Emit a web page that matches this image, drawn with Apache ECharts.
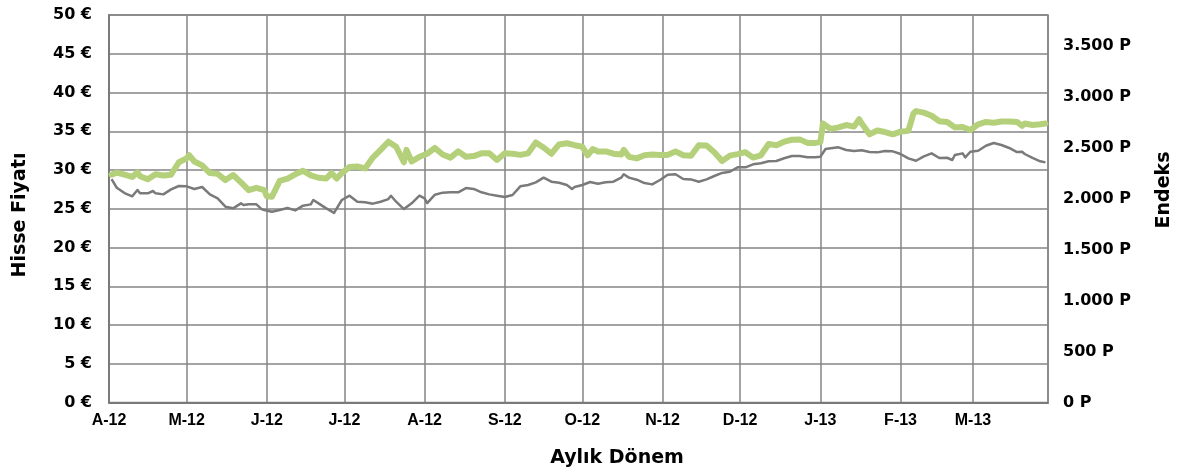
<!DOCTYPE html>
<html>
<head>
<meta charset="utf-8">
<script src="https://cdn.jsdelivr.net/npm/echarts@6/dist/echarts.min.js"></script>
<style>
  html, body { margin: 0; padding: 0; background: #ffffff; }
  #chart { width: 1177px; height: 472px; }
</style>
</head>
<body>
<div id="chart"></div>
<script>
// ---- data (days counted from 1 April 2012) ----
const monthLetters = ['J','F','M','A','M','J','J','A','S','O','N','D'];
const leftTicks = { min: 0, max: 50, step: 5 };
const rightTicks = { min: 0, max: 3800, step: 500 };

const stockDays = [1,3,6,9,11,12,15,18,21,24,27,30,31,33,36,39,42,45,48,51,54,57,60,61,63,66,69,72,75,78,81,84,86,88,90,93,96,99,102,105,108,111,114,115,117,120,123,126,129,132,135,138,141,144,147,150,153,156,159,162,165,168,171,174,177,180,183,185,187,189,192,195,198,199,201,204,207,210,213,216,219,222,225,228,231,234,237,240,243,246,249,252,255,258,261,264,267,270,273,275,276,279,282,285,288,290,291,294,297,300,303,306,309,311,312,315,318,321,324,327,330,333,336,339,342,345,348,351,353,354,357,360,362];
const stockPrice = [29.4,29.65,29.4,29.1,29.7,29.2,28.8,29.45,29.3,29.4,31.0,31.5,31.9,31.1,30.6,29.6,29.5,28.7,29.35,28.4,27.4,27.7,27.4,26.6,26.55,28.6,28.9,29.45,29.9,29.3,29.0,28.9,29.6,28.9,29.6,30.4,30.45,30.2,31.6,32.6,33.65,33.0,31.0,32.6,31.1,31.7,32.1,32.85,32.0,31.6,32.4,31.7,31.8,32.15,32.15,31.3,32.15,32.1,31.95,32.15,33.55,32.9,32.1,33.3,33.45,33.2,33.0,31.9,32.7,32.4,32.4,32.1,32.0,32.6,31.7,31.5,31.9,32.0,31.95,31.95,32.4,31.9,31.85,33.2,33.15,32.3,31.15,31.85,32.05,32.3,31.6,31.9,33.35,33.2,33.65,33.9,33.95,33.5,33.5,33.6,36.0,35.3,35.5,35.8,35.6,36.55,36.0,34.6,35.1,34.9,34.6,34.95,35.05,37.3,37.6,37.4,37.0,36.3,36.2,35.5,35.55,35.15,35.9,36.2,36.1,36.25,36.25,36.2,35.7,36.0,35.8,35.9,36.0];

const indexDays = [1,3,6,9,11,12,15,17,18,21,24,27,30,33,36,39,42,45,48,51,52,54,57,59,60,63,66,69,72,75,78,79,81,84,87,90,93,96,99,102,105,108,109,111,114,117,120,122,123,126,129,132,135,138,141,144,147,150,153,156,159,162,165,168,171,174,177,179,180,183,186,189,192,195,198,199,201,204,207,210,213,216,219,222,225,228,231,234,237,240,243,246,249,252,255,258,261,264,267,270,273,275,277,279,282,285,288,291,294,297,300,303,306,309,312,315,318,321,324,326,327,330,331,333,336,339,342,345,348,351,353,354,357,360,362];
const indexValue = [2190,2106,2054,2022,2084,2051,2051,2074,2051,2041,2090,2123,2120,2094,2113,2041,2002,1920,1904,1953,1937,1943,1943,1897,1888,1871,1888,1907,1884,1930,1943,1986,1953,1904,1860,1986,2028,1969,1963,1950,1969,1995,2028,1969,1897,1953,2028,2002,1956,2038,2058,2061,2061,2103,2094,2061,2041,2028,2015,2035,2120,2133,2159,2205,2165,2155,2133,2094,2113,2133,2162,2146,2159,2165,2205,2238,2205,2185,2152,2139,2182,2234,2238,2192,2188,2165,2188,2221,2251,2263,2306,2306,2336,2346,2365,2368,2395,2417,2417,2404,2404,2410,2486,2493,2502,2476,2466,2473,2456,2453,2466,2463,2437,2394,2371,2414,2443,2398,2400,2378,2427,2443,2404,2459,2469,2518,2545,2525,2496,2456,2459,2437,2398,2365,2355];

const axisStartDay = 0;
const axisEndDay = 363;

// ---- helpers ----
function dayToTime(d) { return new Date(2012, 3, 1 + d).getTime(); }
function pairs(days, vals) { return days.map((d, i) => [dayToTime(d), vals[i]]); }
function thousands(v) { return String(v).replace(/\B(?=(\d{3})+(?!\d))/g, '.'); }

const gridColor = '#858585';
const labelFontY = 'DejaVu Sans';
const labelFontX = 'Liberation Sans';

const chart = echarts.init(document.getElementById('chart'), null, { renderer: 'canvas' });
chart.setOption({
  backgroundColor: '#ffffff',
  animation: false,
  grid: {
    left: 109, right: 129, top: 15, bottom: 69.5,
    show: true, borderColor: gridColor, borderWidth: 1.5, backgroundColor: 'transparent'
  },
  xAxis: {
    type: 'time',
    min: dayToTime(axisStartDay),
    max: dayToTime(axisEndDay),
    splitNumber: 12,
    minInterval: 28 * 86400000,
    maxInterval: 31 * 86400000,
    axisLine: { show: true, lineStyle: { color: '#7a7a7a', width: 2 } },
    axisTick: { show: false },
    splitLine: { show: true, lineStyle: { color: gridColor, width: 1.5 } },
    axisLabel: {
      showMaxLabel: false,
      margin: 10,
      color: '#000',
      fontFamily: labelFontX,
      fontWeight: 'bold',
      fontSize: 16,
      formatter: function (val) {
        const dt = new Date(val);
        return monthLetters[dt.getMonth()] + '-' + String(dt.getFullYear()).slice(2);
      }
    }
  },
  yAxis: [
    {
      type: 'value',
      min: leftTicks.min, max: leftTicks.max, interval: leftTicks.step,
      axisLine: { show: true, lineStyle: { color: '#7a7a7a', width: 2 } },
      axisTick: { show: false },
      splitLine: { show: true, lineStyle: { color: gridColor, width: 1.5 } },
      axisLabel: {
        margin: 17, color: '#000', fontFamily: labelFontY, fontWeight: 'bold', fontSize: 16,
        formatter: function (v) { return v + ' €'; }
      }
    },
    {
      type: 'value',
      min: rightTicks.min, max: rightTicks.max, interval: rightTicks.step,
      position: 'right',
      axisLine: { show: false },
      axisTick: { show: false },
      splitLine: { show: false },
      axisLabel: {
        margin: 15, color: '#000', fontFamily: labelFontY, fontWeight: 'bold', fontSize: 16,
        showMaxLabel: false,
        formatter: function (v) { return (v % rightTicks.step === 0) ? thousands(v) + ' P' : ''; }
      }
    }
  ],
  graphic: [
    { type: 'text', x: 20, y: 215, rotation: Math.PI / 2,
      style: { text: 'Hisse Fiyatı', font: 'bold 19px "DejaVu Sans"', fill: '#000', align: 'center', verticalAlign: 'middle' } },
    { type: 'text', x: 1164, y: 190, rotation: Math.PI / 2,
      style: { text: 'Endeks', font: 'bold 19px "DejaVu Sans"', fill: '#000', align: 'center', verticalAlign: 'middle' } },
    { type: 'text', x: 617, y: 458,
      style: { text: 'Aylık Dönem', font: 'bold 19px "DejaVu Sans"', fill: '#000', align: 'center', verticalAlign: 'middle' } }
  ],
  series: [
    {
      name: 'Hisse Fiyatı', type: 'line', yAxisIndex: 0,
      data: pairs(stockDays, stockPrice),
      showSymbol: false, symbol: 'none',
      lineStyle: { color: '#b5d07a', width: 6, join: 'round', cap: 'round' }
    },
    {
      name: 'Endeks', type: 'line', yAxisIndex: 1,
      data: pairs(indexDays, indexValue),
      showSymbol: false, symbol: 'none',
      lineStyle: { color: '#7a7a7a', width: 2.5, join: 'round' }
    }
  ]
});
</script>
</body>
</html>
